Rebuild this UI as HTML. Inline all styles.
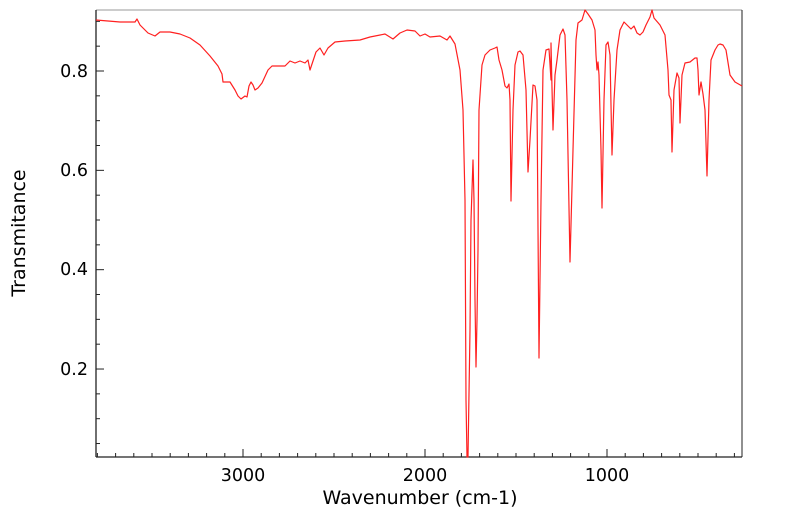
<!DOCTYPE html>
<html><head><meta charset="utf-8"><style>
html,body{margin:0;padding:0;background:#fff;width:799px;height:516px;overflow:hidden}
svg text{font-family:"DejaVu Sans","Liberation Sans",sans-serif;fill:#000}
</style></head><body>
<svg id="s" width="799" height="516" xmlns="http://www.w3.org/2000/svg">
<rect x="96" y="10" width="646" height="447" fill="#fff" stroke="none"/>
<line x1="96" y1="10" x2="742" y2="10" stroke="#999" stroke-width="1"/>
<line x1="742" y1="10" x2="742" y2="457" stroke="#222" stroke-width="1"/>
<line x1="96" y1="10" x2="96" y2="457" stroke="#222" stroke-width="1.3"/>
<line x1="96" y1="457" x2="742" y2="457" stroke="#222" stroke-width="1.3"/>
<g id="ticks" stroke="#222" stroke-width="1"></g>
<polyline fill="none" stroke="#ff2020" stroke-width="1.2" stroke-linejoin="round" points="96,20 120,22 135,22 137,19 140,25 148,33 155,36 160,32 170,32 180,34 190,38 200,45 210,56 218,66 222,74 223,82 230,82 235,90 238,96 241,99 245,96 247,97 249,86 251,82 253,85 255,90 258,88 262,83 268,70 272,66 285,66 290,61 295,63 300,61 305,63 308,60 310,70 312,64 316,52 320,48 324,55 328,48 335,42 345,41 360,40 370,37 385,34 393,39 400,33 407,30 415,31 420,36 425,34 430,37 440,36 447,40 450,36 455,44 460,70 463,110 465,200 466,400 467,457 468,457 470,330 471,220 473,160 474,200 475,300 476,367 477,320 478,250 479,110 482,65 485,55 490,50 495,48 497,47 499,60 502,70 505,86 507,88 509,84 510,100 511,201 513,110 515,65 518,52 520,51 523,55 526,90 528,172 530,140 533,85 535,86 537,100 539,358 541,200 543,70 546,50 549,49 551,80 551,43 552,88 553,130 555,75 557,60 560,35 563,29 565,35 567,100 570,262 573,150 576,40 578,23 582,20 585,10 588,14 592,20 595,30 596,55 597,70 598,62 599,75 601,150 602,208 604,100 606,45 608,42 610,55 612,155 614,100 617,50 620,30 624,22 628,26 631,29 634,26 637,33 640,35 643,32 646,25 650,17 652,10 654,18 660,25 665,35 668,70 669,95 671,100 672,152 674,90 677,73 679,78 680,123 682,75 685,63 690,62 695,58 697,58 698,70 699,95 701,82 703,94 705,110 707,176 709,100 711,60 715,50 718,45 720,44 723,45 726,50 730,75 735,82 742,86"/>
<g font-size="17.5">
<text x="243" y="481" text-anchor="middle">3000</text>
<text x="425" y="481" text-anchor="middle">2000</text>
<text x="607" y="481" text-anchor="middle">1000</text>
<text x="88" y="77" text-anchor="end">0.8</text>
<text x="88" y="176" text-anchor="end">0.6</text>
<text x="88" y="275" text-anchor="end">0.4</text>
<text x="88" y="375" text-anchor="end">0.2</text>
</g>
<g font-size="19">
<text x="420" y="504" text-anchor="middle">Wavenumber (cm-1)</text>
<text transform="translate(25,233) rotate(-90)" text-anchor="middle">Transmitance</text>
</g>
</svg>
<script>
var g=document.getElementById('ticks'),h='';
for(var w=3800;w>=300;w-=100){var x=243+(3000-w)*0.182;if(x<97||x>741)continue;var L=(w%1000==0)?8:4;h+='<line x1="'+x+'" y1="457" x2="'+x+'" y2="'+(457-L)+'"/>';}
for(var v=0.05;v<0.93;v+=0.05){var y=71+(0.8-v)*496.7;if(y<11||y>456)continue;var m=Math.round(v*100)%20==0;var L=m?8:4;h+='<line x1="96" y1="'+y+'" x2="'+(96+L)+'" y2="'+y+'"/>';}
g.innerHTML=h;
</script>
</body></html>
